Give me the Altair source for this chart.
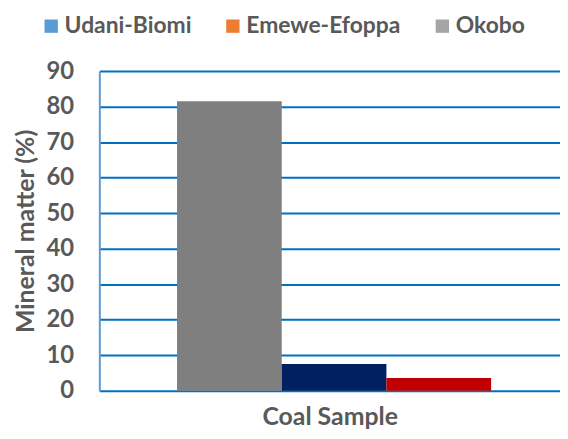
import altair as alt
import pandas as pd

series = ["Udani-Biomi", "Emewe-Efoppa", "Okobo"]
values = [81.5, 7.5, 3.6]
bar_colors = ["#7F7F7F", "#002060", "#C00000"]
legend_colors = ["#5B9BD5", "#ED7D31", "#A5A5A5"]

df = pd.DataFrame({"series": series, "value": values})

FONT = "Lato"
GREY = "#595959"

x_enc = alt.X(
    "series:N",
    sort=series,
    scale=alt.Scale(paddingInner=0, paddingOuter=0.70, align=0.53),
    axis=alt.Axis(
        title="Coal Sample", labels=False, ticks=False, domain=False, grid=False,
        titleFont=FONT, titleFontSize=25, titleFontWeight="bold", titleColor=GREY,
        titlePadding=14,
    ),
)
y_enc = alt.Y(
    "value:Q",
    scale=alt.Scale(domain=[0, 90], nice=False),
    axis=alt.Axis(
        title="Mineral matter (%)", values=list(range(0, 100, 10)), ticks=False,
        domain=True, domainColor="#5B9BD5", domainWidth=2,
        grid=True, gridColor="#0070C0", gridWidth=2,
        labelFont=FONT, labelFontSize=24, labelFontWeight="bold", labelColor=GREY,
        labelPadding=26,
        titleFont=FONT, titleFontSize=25, titleFontWeight="bold", titleColor=GREY,
        titlePadding=7,
    ),
)

bars = alt.Chart(df).mark_bar().encode(
    x=x_enc,
    y=y_enc,
    color=alt.Color("series:N", scale=alt.Scale(domain=series, range=bar_colors), legend=None),
)

legend_layer = alt.Chart(df).mark_bar(opacity=0).encode(
    x=x_enc,
    y=y_enc,
    fill=alt.Fill(
        "series:N",
        scale=alt.Scale(domain=series, range=legend_colors),
        legend=alt.Legend(
            title=None, orient="none", direction="horizontal",
            legendX=-60, legendY=-57,
            symbolType="square", symbolSize=180, symbolOpacity=1, symbolStrokeWidth=0,
            labelFont=FONT, labelFontSize=23, labelFontWeight="bold", labelColor=GREY,
            labelOffset=2, columnPadding=30, labelLimit=300,
        ),
    ),
)

chart = alt.layer(bars, legend_layer).resolve_scale(color="independent", fill="independent").properties(
    width=464, height=322,
    autosize=alt.AutoSizeParams(type="none"),
    padding={"left": 92, "top": 62, "right": 0, "bottom": 40},
).configure_view(stroke=None)

chart.save("out.html", embed_options={"renderer": "svg", "actions": False})
